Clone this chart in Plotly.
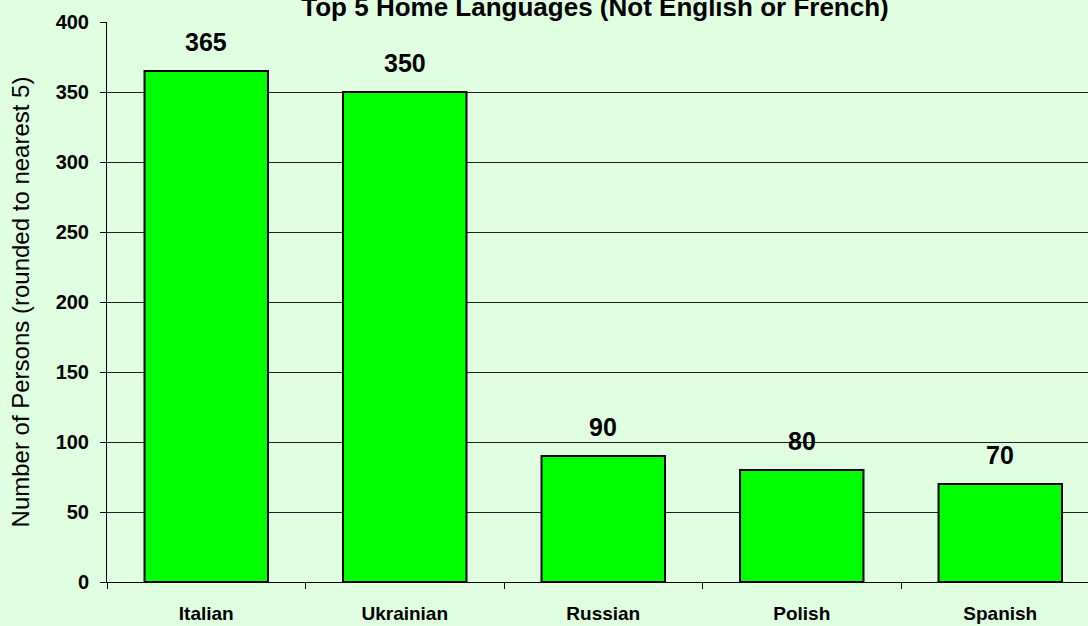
import plotly.graph_objects as go

categories = ["Italian", "Ukrainian", "Russian", "Polish", "Spanish"]
persons = [365, 350, 90, 80, 70]
y_ticks = [0, 50, 100, 150, 200, 250, 300, 350, 400]

title_text = "Top 5 Home Languages (Not English or French)"
y_title = "Number of Persons (rounded to nearest 5)"

BG = "#E0FFE0"
BAR = "#00FF00"
FONT = "Liberation Sans, Arial, sans-serif"

fig = go.Figure()
fig.add_trace(go.Bar(
    x=categories,
    y=persons,
    marker=dict(color=BAR, line=dict(color="black", width=2)),
    hoverinfo="x+y",
))

for c, v in zip(categories, persons):
    fig.add_annotation(
        x=c, y=v, text=str(v), showarrow=False,
        yanchor="bottom", yshift=13,
        font=dict(family=FONT, size=25, color="black", weight="bold"),
    )

fig.update_layout(
    width=1088, height=626,
    paper_bgcolor=BG, plot_bgcolor=BG,
    margin=dict(l=107, r=0, t=22, b=44, autoexpand=False),
    bargap=0.378,
    showlegend=False,
    title=dict(
        text=title_text,
        x=595/1088, xref="container", xanchor="center",
        y=1 - 7/626, yref="container", yanchor="middle",
        font=dict(family=FONT, size=26, color="black", weight="bold"),
    ),
    xaxis=dict(
        range=[-0.5, 4.442],
        tickson="boundaries",
        ticks="outside", ticklen=6, tickcolor="black", tickwidth=1,
        showline=True, linecolor="black", linewidth=1,
        showgrid=False, zeroline=False,
        tickfont=dict(family=FONT, size=19, color="black", weight="bold"),
        ticklabelstandoff=14,
        fixedrange=True,
    ),
    yaxis=dict(
        range=[0, 400],
        tickvals=y_ticks,
        ticks="outside", ticklen=6, tickcolor="black", tickwidth=1,
        showline=True, linecolor="black", linewidth=1,
        showgrid=True, gridcolor="#202020", gridwidth=1,
        zeroline=False,
        tickfont=dict(family=FONT, size=20, color="black", weight="bold"),
        ticklabelstandoff=7,
        title=dict(text=y_title, standoff=19,
                   font=dict(family=FONT, size=24, color="black")),
        fixedrange=True,
    ),
)

fig.write_html(
    "out.html",
    config={"displayModeBar": False},
    post_script="document.body.style.margin='0px';document.body.style.overflow='hidden';",
)
